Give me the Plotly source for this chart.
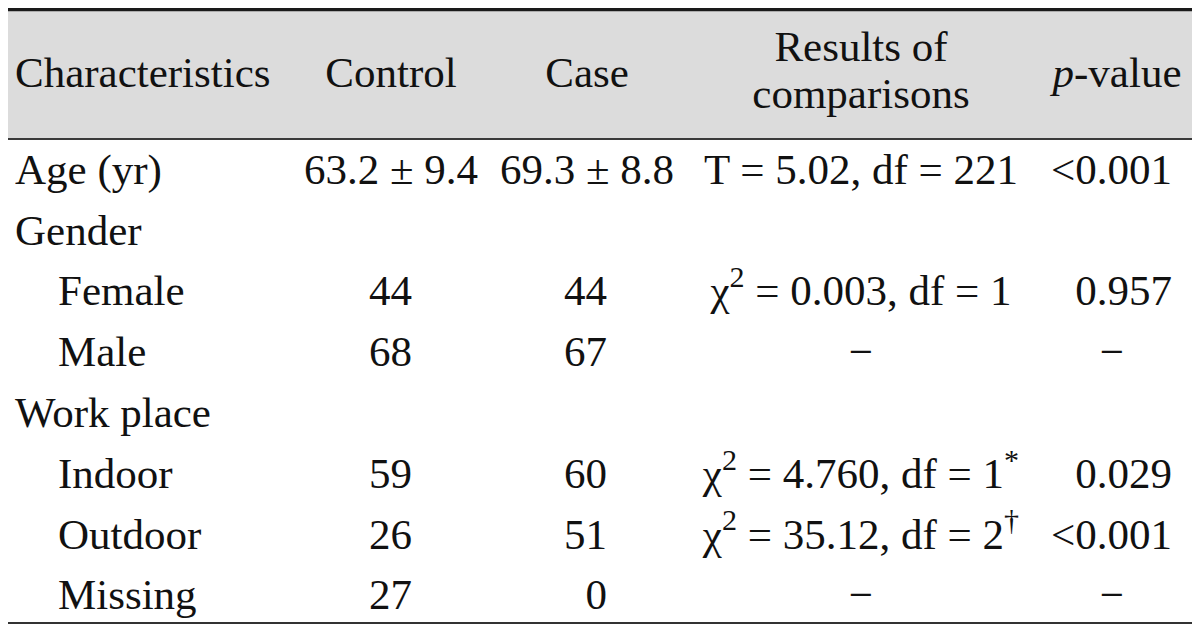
import plotly.graph_objects as go

# ---------------- data ----------------
characteristics = ["Age (yr)", "Gender", "Female", "Male", "Work place", "Indoor", "Outdoor", "Missing"]
indent_level = [0, 0, 1, 1, 0, 1, 1, 1]
control = ["63.2 ± 9.4", "", "44", "68", "", "59", "26", "27"]
case = ["69.3 ± 8.8", "", "44", "67", "", "60", "51", "0"]
comparisons = ["T = 5.02, df = 221", "", "χ<sup>2</sup> = 0.003, df = 1", "−", "",
               "χ<sup>2</sup> = 4.760, df = 1<sup>*</sup>", "χ<sup>2</sup> = 35.12, df = 2<sup>†</sup>", "−"]
p_values = ["<0.001", "", "0.957", "−", "", "0.029", "<0.001", "−"]
headers = ["Characteristics", "Control", "Case", "Results of", "comparisons", "<i>p</i>-value"]

# ---------------- layout constants ----------------
W, H = 1200, 630
PAGE_OFFSET = 8  # default body margin of the html page
FONT = dict(family="Liberation Serif, Times New Roman, serif", size=43, color="#111111")
row_first, row_step = 173, 60.8
row_y = [row_first + i * row_step for i in range(len(characteristics))]
header_y = 76
header_two_y = [50, 97]
x_left, x_indent = 15, 58
ctrl_center, ctrl_right = 391, 412
case_center, case_right = 587, 607
comp_center = 861
p_right, p_dash_center = 1172, 1112


def esc(s):
    return s.replace("<0", "&lt;0")


fig = go.Figure()


def add_text(xs, ys, texts, pos):
    fig.add_trace(go.Scatter(x=xs, y=ys, text=texts, mode="text", textposition=pos,
                             textfont=FONT, hoverinfo="skip", showlegend=False))


# header
add_text([x_left], [header_y], [headers[0]], "middle right")
add_text([ctrl_center, case_center], [header_y, header_y], headers[1:3], "middle center")
add_text([comp_center, comp_center], header_two_y, headers[3:5], "middle center")
add_text([p_dash_center + 5], [header_y], [headers[5]], "middle center")

# first column
add_text([x_indent if lvl else x_left for lvl in indent_level], row_y, characteristics, "middle right")


def numeric_column(values, center_x, right_x):
    cx, cy, ct, rx, ry, rt = [], [], [], [], [], []
    for v, y in zip(values, row_y):
        if not v:
            continue
        if "±" in v or v == "−":
            cx.append(center_x); cy.append(y); ct.append(esc(v))
        else:
            rx.append(right_x); ry.append(y); rt.append(esc(v))
    if ct:
        add_text(cx, cy, ct, "middle center")
    if rt:
        add_text(rx, ry, rt, "middle left")


numeric_column(control, ctrl_center, ctrl_right)
numeric_column(case, case_center, case_right)

cy = [y for v, y in zip(comparisons, row_y) if v]
add_text([comp_center] * len(cy), cy, [v for v in comparisons if v], "middle center")

numeric_column(p_values, p_dash_center, p_right)

# rules and header band
shapes = [
    dict(type="rect", x0=8, x1=W, y0=11, y1=138, fillcolor="#dcdcdc", line=dict(width=0), layer="below"),
    dict(type="line", x0=8, x1=W, y0=9.5, y1=9.5, line=dict(color="#1a1a1a", width=3.5), layer="below"),
    dict(type="line", x0=8, x1=W, y0=139, y1=139, line=dict(color="#3a3a3a", width=2), layer="below"),
    dict(type="line", x0=8, x1=W, y0=623, y1=623, line=dict(color="#333333", width=2), layer="below"),
]

fig.update_layout(
    width=W - PAGE_OFFSET, height=H - PAGE_OFFSET, margin=dict(l=0, r=0, t=0, b=0),
    paper_bgcolor="white", plot_bgcolor="white",
    xaxis=dict(range=[PAGE_OFFSET, W], visible=False, fixedrange=True),
    yaxis=dict(range=[H, PAGE_OFFSET], visible=False, fixedrange=True),
    shapes=shapes,
)

fig.write_html("out.html")
